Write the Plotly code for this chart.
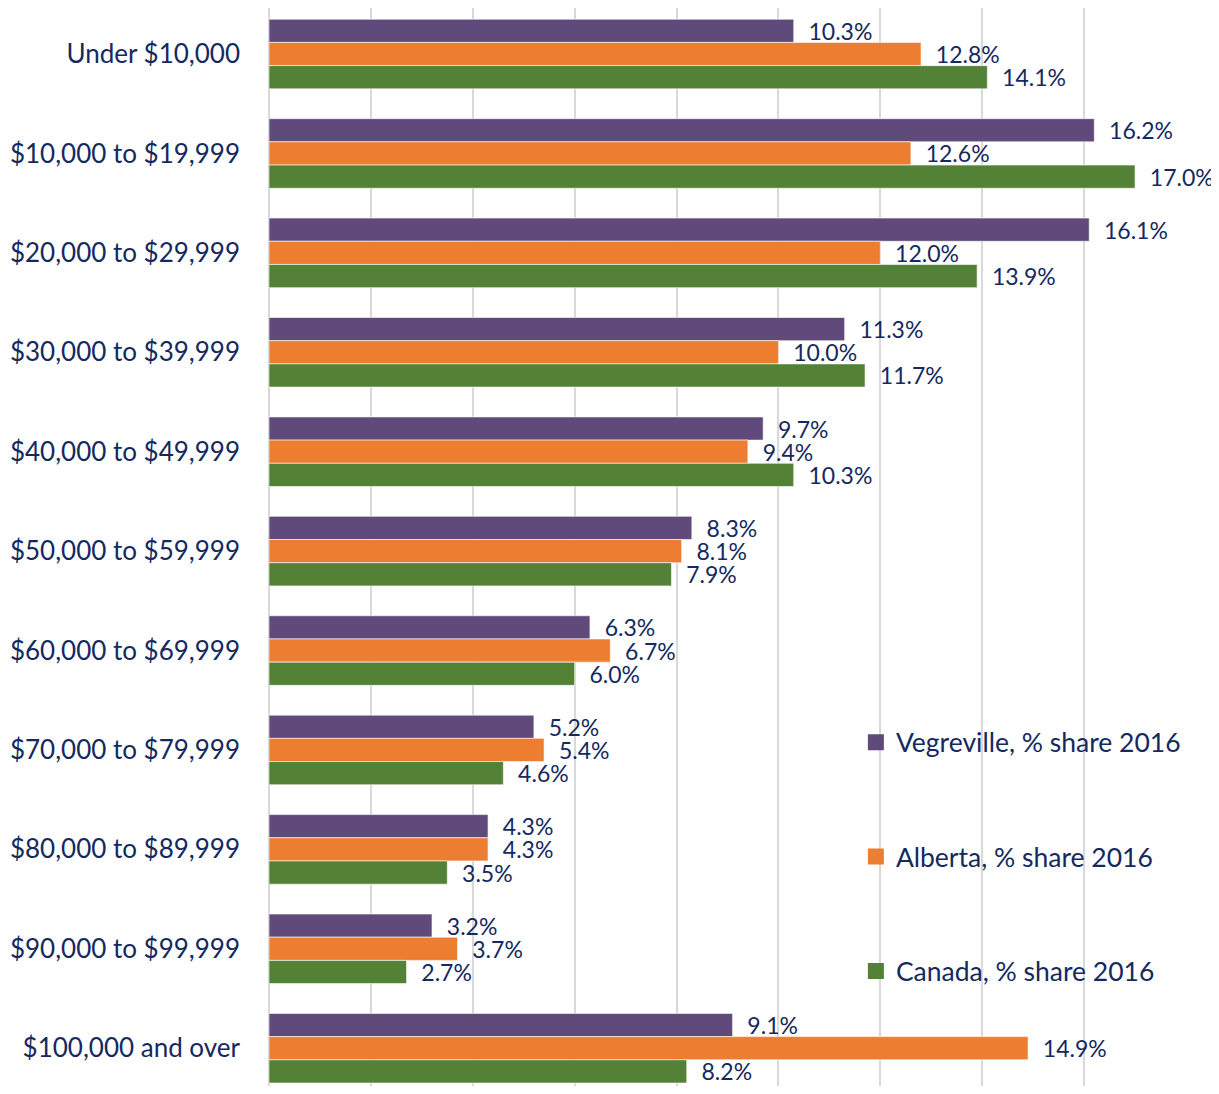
import plotly.graph_objects as go

categories = ["Under $10,000", "$10,000 to $19,999", "$20,000 to $29,999", "$30,000 to $39,999",
              "$40,000 to $49,999", "$50,000 to $59,999", "$60,000 to $69,999", "$70,000 to $79,999",
              "$80,000 to $89,999", "$90,000 to $99,999", "$100,000 and over"]
vegreville = [10.3, 16.2, 16.1, 11.3, 9.7, 8.3, 6.3, 5.2, 4.3, 3.2, 9.1]
alberta = [12.8, 12.6, 12.0, 10.0, 9.4, 8.1, 6.7, 5.4, 4.3, 3.7, 14.9]
canada = [14.1, 17.0, 13.9, 11.7, 10.3, 7.9, 6.0, 4.6, 3.5, 2.7, 8.2]
series_names = ["Vegreville, % share 2016", "Alberta, % share 2016", "Canada, % share 2016"]
colors = ["#604A7B", "#ED7D31", "#538135"]

TXT = "#14295E"
FONT = "Lato"

fig = go.Figure()
for name, vals, col in zip(series_names, [vegreville, alberta, canada], colors):
    fig.add_trace(go.Bar(
        y=categories, x=vals, name=name, orientation="h",
        marker=dict(color=col, line=dict(color="rgba(255,255,255,0.6)", width=1)),
        text=vals, texttemplate="  %{x:.1f}%", textposition="outside",
        constraintext="none", cliponaxis=False,
        textfont=dict(color=TXT, size=23, family=FONT),
        legendgroup=name, showlegend=False,
    ))
    # legend entry with a larger square marker
    fig.add_trace(go.Scatter(
        x=[None], y=[None], mode="markers", name=name, legendgroup=name,
        marker=dict(symbol="square", size=16, color=col),
    ))

fig.update_layout(
    width=1211, height=1078,
    margin=dict(l=261, r=33, t=0, b=0),
    barmode="group", bargap=0.3, bargroupgap=0,
    plot_bgcolor="white", paper_bgcolor="white",
    font=dict(family=FONT, color=TXT, size=24),
    legend=dict(x=0.640, y=0.341, xanchor="left", yanchor="top",
                traceorder="grouped", tracegroupgap=77, itemsizing="trace",
                font=dict(size=26.5, color=TXT, family=FONT),
                bgcolor="rgba(0,0,0,0)"),
    xaxis=dict(range=[0, 18], dtick=2, showticklabels=False, showgrid=True,
               gridcolor="#D9D9D9", gridwidth=2, zeroline=True, zerolinecolor="#D9D9D9",
               zerolinewidth=2, showline=False, fixedrange=True),
    yaxis=dict(type="category", range=[10.38, -0.463], showgrid=False, ticks="",
               ticklabelstandoff=28,
               tickfont=dict(size=26, color=TXT, family=FONT), showline=False),
)

fig.write_html("out.html")
